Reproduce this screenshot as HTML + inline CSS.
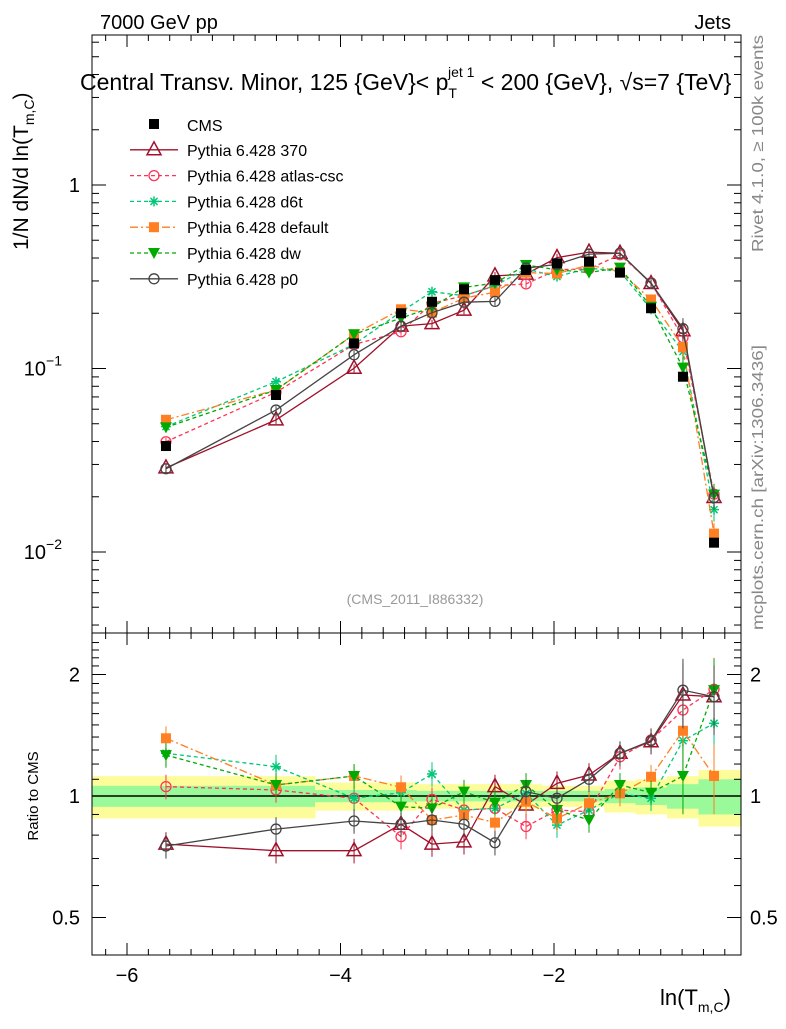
<!DOCTYPE html>
<html><head><meta charset="utf-8"><style>
body{margin:0;background:#fff;}
svg text{font-family:"Liberation Sans",sans-serif;}
</style></head><body>
<svg id="c" width="786" height="1024" viewBox="0 0 786 1024" xmlns="http://www.w3.org/2000/svg">
<text x="100" y="29" font-size="20">7000 GeV pp</text>
<text x="731" y="29" font-size="20" text-anchor="end">Jets</text>
<text x="80" y="90" font-size="23">Central Transv. Minor, 125 {GeV}&lt; p<tspan font-size="14" dy="8">T</tspan><tspan font-size="14" dx="-9" dy="-21">jet 1</tspan><tspan dy="13"> &lt; 200 {GeV}, √s=7 {TeV}</tspan></text>
<text transform="translate(28,250) rotate(-90)" font-size="21">1/N    dN/d ln(T<tspan font-size="14" dy="6">m,C</tspan><tspan dy="-6">)</tspan></text>
<text transform="translate(763,252) rotate(-90)" font-size="16" fill="#888" textLength="217" lengthAdjust="spacingAndGlyphs">Rivet 4.1.0, ≥ 100k events</text>
<text transform="translate(763,630) rotate(-90)" font-size="16" fill="#888" textLength="285" lengthAdjust="spacingAndGlyphs">mcplots.cern.ch [arXiv:1306.3436]</text>
<text x="415" y="604" font-size="14" fill="#999" text-anchor="middle">(CMS_2011_I886332)</text>
<text transform="translate(38,796) rotate(-90)" font-size="15" text-anchor="middle">Ratio to CMS</text>
<text x="660" y="1005" font-size="22">ln(T<tspan font-size="14" dy="7">m,C</tspan><tspan dy="-7">)</tspan></text>
<g id="bands"></g>
<g id="axes"></g>
<g id="marks"></g>
<g id="legend"></g>
</svg>
<script>
const xs=[-5.635,-4.604,-3.873,-3.433,-3.143,-2.843,-2.553,-2.262,-1.972,-1.672,-1.382,-1.091,-0.792,-0.501];
const cms=[0.0378,0.0717,0.137,0.200,0.231,0.270,0.303,0.344,0.374,0.382,0.333,0.213,0.0902,0.01124];
const errTot=[0.12,0.12,0.08,0.08,0.07,0.07,0.07,0.07,0.06,0.06,0.09,0.1,0.12,0.16];
const errStat=[0.06,0.06,0.035,0.035,0.03,0.03,0.03,0.03,0.03,0.03,0.04,0.05,0.07,0.1];
const r370=[0.760,0.732,0.732,0.851,0.760,0.770,1.055,0.950,1.075,1.127,1.276,1.363,1.779,1.762];
const rAtlas=[1.055,1.035,0.987,0.793,0.981,0.923,0.932,0.840,0.923,0.914,1.251,1.376,1.633,1.838];
const rD6t=[1.276,1.182,0.987,1.019,1.134,0.923,0.932,1.015,0.847,0.923,1.015,0.987,1.371,1.514];
const rDefault=[1.390,1.065,1.121,1.051,0.872,0.897,0.859,0.968,0.880,0.959,1.015,1.116,1.451,1.121];
const rDw=[1.263,1.065,1.121,0.941,0.932,1.025,0.963,1.065,0.923,0.872,1.065,1.019,1.121,1.829];
const rP0=[0.752,0.828,0.867,0.851,0.872,0.851,0.766,1.025,0.987,1.100,1.276,1.371,1.829,1.762];
const xTicks=[-6,-4,-2];
const ratioTicks=[2,1,0.5];

const NS="http://www.w3.org/2000/svg";
const X=v=>127+(v+6)*106.75;
const Y=v=>185-Math.log10(v)*183.5;
const R=v=>796-Math.log2(v)*121.5;
function mk(t,a,p){const e=document.createElementNS(NS,t);for(const k in a)e.setAttribute(k,a[k]);p.appendChild(e);return e;}
const bands=document.getElementById('bands'),axes=document.getElementById('axes'),marks=document.getElementById('marks'),leg=document.getElementById('legend');

const edges=[X(-6.33)];
for(let i=0;i<xs.length-1;i++)edges.push((X(xs[i])+X(xs[i+1]))/2);
edges.push(X(-0.25));
for(let i=0;i<xs.length;i++){
  let b=mk('rect',{x:edges[i],width:edges[i+1]-edges[i]+0.5,y:R(1+errTot[i]),height:R(1-errTot[i])-R(1+errTot[i]),fill:'#fdfc9a'},bands);
  
  
  let g=mk('rect',{x:edges[i],width:edges[i+1]-edges[i]+0.5,y:R(1+errStat[i]),height:R(1-errStat[i])-R(1+errStat[i]),fill:'#9afa9a'},bands);
  
  
}

let f1=mk('rect',{x:92,y:35,width:649,height:598,fill:'none',stroke:'#000','stroke-width':1},axes);

let f2=mk('rect',{x:92,y:633,width:649,height:322,fill:'none',stroke:'#000','stroke-width':1},axes);

let ul=mk('line',{x1:92,x2:741,y1:R(1),y2:R(1),stroke:'#000','stroke-width':1.5},axes);


for(let v=-6.2;v<=-0.25;v+=0.2){
  const vv=Math.round(v*10)/10;const major=Math.abs(vv-Math.round(vv))<1e-6&&Math.round(vv)%2===0;
  const L=major?12:6;
  for(const [yb,d] of [[633,-1],[955,-1],[35,1],[633,1]]){mk('line',{x1:X(vv),x2:X(vv),y1:yb,y2:yb+d*L,stroke:'#000'},axes);}
}
xTicks.forEach(t=>{let e=mk('text',{x:X(t),y:982,'font-size':20,'text-anchor':'middle'},axes);e.textContent='\u2212'+Math.abs(t);
  });

for(let d=-3;d<=0;d++)for(let m=1;m<=9;m++){const v=m*Math.pow(10,d);const y=Y(v);if(y<35||y>633)continue;
  const L=m===1?14:7;mk('line',{x1:92,x2:92+L,y1:y,y2:y,stroke:'#000'},axes);mk('line',{x1:741,x2:741-L,y1:y,y2:y,stroke:'#000'},axes);}
[[1,'1'],[0.1,'10'],[0.01,'10']].forEach(([v,s],i)=>{let e=mk('text',{x:i?62:80,y:Y(v)+7,'font-size':20,'text-anchor':'end'},axes);e.textContent=s;
  if(i){let sp=mk('tspan',{dy:-10,'font-size':14},e);sp.textContent='\u2212'+i;}
  });

for(let v=0.4;v<=2.5;v+=0.1){const vv=Math.round(v*10)/10;const y=R(vv);if(y<633||y>955)continue;
  const L=(vv===0.5||vv===1||vv===2)?14:7;mk('line',{x1:92,x2:92+L,y1:y,y2:y,stroke:'#000'},axes);mk('line',{x1:741,x2:741-L,y1:y,y2:y,stroke:'#000'},axes);}
ratioTicks.forEach(t=>{let e=mk('text',{x:80,y:R(t)+7,'font-size':20,'text-anchor':'end'},axes);e.textContent=String(t);
  
  let e2=mk('text',{x:750,y:R(t)+7,'font-size':20},axes);e2.textContent=String(t);
  });

function marker(type,x,y,col,p){
  if(type==='sq')return mk('rect',{x:x-5,y:y-5,width:10,height:10,fill:col},p);
  if(type==='tri')return mk('polygon',{points:`${x},${y-8} ${x-7},${y+5} ${x+7},${y+5}`,fill:'none',stroke:col,'stroke-width':1.5},p);
  if(type==='circ')return mk('circle',{cx:x,cy:y,r:5,fill:'none',stroke:col,'stroke-width':1.3},p);
  if(type==='dtri')return mk('polygon',{points:`${x},${y+6} ${x-6},${y-5} ${x+6},${y-5}`,fill:col},p);
  if(type==='star'){const g=mk('g',{stroke:col,'stroke-width':1.5},p);
    for(let a=0;a<4;a++){const an=a*Math.PI/4;mk('line',{x1:x-5*Math.cos(an),y1:y-5*Math.sin(an),x2:x+5*Math.cos(an),y2:y+5*Math.sin(an)},g);}return g;}
}
const series=[
 {name:'Pythia 6.428 370',r:r370,col:'#a0102a',m:'tri',dash:'',k:'pythia-370'},
 {name:'Pythia 6.428 atlas-csc',r:rAtlas,col:'#ff3355',m:'circ',dash:'4,3',k:'pythia-atlas-csc'},
 {name:'Pythia 6.428 d6t',r:rD6t,col:'#00c878',m:'star',dash:'4,3',k:'pythia-d6t'},
 {name:'Pythia 6.428 default',r:rDefault,col:'#ff7f22',m:'sq',dash:'8,3,2,3',k:'pythia-default'},
 {name:'Pythia 6.428 dw',r:rDw,col:'#00aa00',m:'dtri',dash:'4,3',k:'pythia-dw'},
 {name:'Pythia 6.428 p0',r:rP0,col:'#444444',m:'circ',dash:'',k:'pythia-p0'}];

series.forEach(s=>{
  const vals=cms.map((c,i)=>c*s.r[i]);
  const g=mk('g',{},marks);
  
  let l=mk('polyline',{points:xs.map((x,i)=>X(x)+','+Y(vals[i])).join(' '),fill:'none',stroke:s.col,'stroke-width':1.3,'stroke-dasharray':s.dash},g);
  
  let l2=mk('polyline',{points:xs.map((x,i)=>X(x)+','+R(s.r[i])).join(' '),fill:'none',stroke:s.col,'stroke-width':1.3,'stroke-dasharray':s.dash},g);
  
  xs.forEach((x,i)=>{
    const e=0.05+0.03*(i>11?3:0);
    mk('line',{x1:X(x),x2:X(x),y1:Y(vals[i]*(1+e)),y2:Y(vals[i]*(1-e)),stroke:s.col},g);
    mk('line',{x1:X(x),x2:X(x),y1:R(s.r[i]*(1+e*1.4)),y2:R(s.r[i]*(1-e*1.4)),stroke:s.col},g);
    let p=marker(s.m,X(x),Y(vals[i]),s.col,g);
    
    let q=marker(s.m,X(x),R(s.r[i]),s.col,g);
    
  });
});
xs.forEach((x,i)=>{let p=marker('sq',X(x),Y(cms[i]),'#000',marks);
  });

const ly0=124,ld=25.8;
let lt=mk('text',{x:187,y:ly0+7,'font-size':16},leg);lt.textContent='CMS';

marker('sq',154,ly0,'#000',leg);
series.forEach((s,i)=>{const y=ly0+ld*(i+1);
  mk('line',{x1:130,x2:178,y1:y,y2:y,stroke:s.col,'stroke-width':1.3,'stroke-dasharray':s.dash},leg);
  marker(s.m,154,y,s.col,leg);
  let t=mk('text',{x:187,y:y+6,'font-size':16},leg);t.textContent=s.name;
  });
</script>
</body></html>
